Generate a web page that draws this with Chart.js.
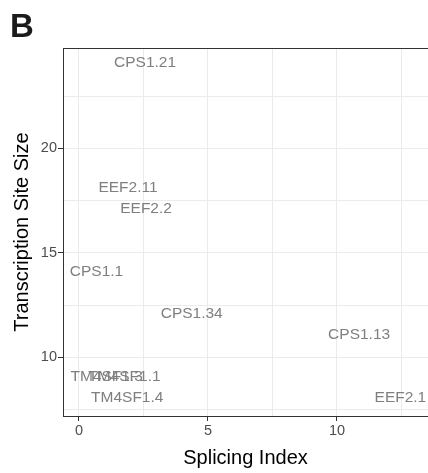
<!DOCTYPE html>
<html>
<head>
<meta charset="utf-8">
<script src="https://cdn.jsdelivr.net/npm/chart.js@4.4.1/dist/chart.umd.min.js"></script>
<style>
  html, body { margin: 0; padding: 0; background: #fff; overflow: hidden; }
  canvas { display: block; }
</style>
</head>
<body>
<canvas id="scatter-chart" width="428" height="473"></canvas>
<script>
// gene labels and their coordinates
const geneLabels = ['CPS1.21', 'EEF2.11', 'EEF2.2', 'CPS1.1', 'CPS1.34', 'CPS1.13', 'TM4SF1.3', 'TM4SF1.1', 'TM4SF1.4', 'EEF2.1'];
const splicingIndex = [2.56, 1.9, 2.6, 0.68, 4.37, 10.86, 1.07, 1.76, 1.87, 12.46];
const siteSize = [24, 18, 17, 14, 12, 11, 9, 9, 8, 8];

const xTicks = [0, 2.5, 5, 7.5, 10, 12.5];
const yTicks = [7.5, 10, 12.5, 15, 17.5, 20, 22.5];
const panelLetter = 'B';

const FONT = "'Liberation Sans', Arial, Helvetica, sans-serif";

const points = splicingIndex.map((x, i) => ({ x: x, y: siteSize[i] }));

const isMajor = v => Math.abs(v % 5) < 1e-9;

const textLabels = {
  id: 'textLabels',
  afterDatasetsDraw(chart) {
    const ctx = chart.ctx;
    const meta = chart.getDatasetMeta(0);
    ctx.save();
    ctx.font = '15.5px ' + FONT;
    ctx.fillStyle = '#7f7f7f';
    ctx.textAlign = 'center';
    ctx.textBaseline = 'middle';
    meta.data.forEach((el, i) => {
      // ggplot centres the glyph box a little higher than canvas 'middle'
      ctx.fillText(geneLabels[i], el.x, el.y - 2);
    });
    ctx.restore();
  },
  afterDraw(chart) {
    const ctx = chart.ctx;
    const area = chart.chartArea;
    ctx.save();
    ctx.strokeStyle = '#333333';
    ctx.lineWidth = 1;
    ctx.beginPath();
    ctx.moveTo(area.left, area.top + 0.5);
    ctx.lineTo(area.right, area.top + 0.5);
    ctx.stroke();
    ctx.font = 'bold 33px ' + FONT;
    ctx.fillStyle = '#1a1a1a';
    ctx.textAlign = 'left';
    ctx.textBaseline = 'alphabetic';
    ctx.fillText(panelLetter, 10, 37);
    ctx.restore();
  }
};

function loadChart() {
  const ctx = document.getElementById('scatter-chart').getContext('2d');
  new Chart(ctx, {
    type: 'scatter',
    data: {
      datasets: [
        {
          data: points,
          pointRadius: 0,
          pointHoverRadius: 0,
        },
      ],
    },
    options: {
      responsive: false,
      animation: false,
      events: [],
      layout: { padding: { top: 48, right: 0, left: 0, bottom: 0 } },
      plugins: {
        legend: { display: false },
        tooltip: { enabled: false },
      },
      scales: {
        x: {
          type: 'linear',
          min: -0.62,
          max: 13.53,
          afterBuildTicks: scale => { scale.ticks = xTicks.map(v => ({ value: v })); },
          afterFit: scale => { scale.height = 57; },
          grid: {
            color: '#ebebeb',
            lineWidth: 1,
            tickLength: 5,
            tickColor: c => (c.tick && isMajor(c.tick.value) ? '#333333' : 'rgba(0,0,0,0)'),
          },
          border: { color: '#333333', width: 1 },
          ticks: {
            padding: 1,
            color: '#4d4d4d',
            font: { family: FONT, size: 14.5 },
            maxRotation: 0,
            autoSkip: false,
            callback: v => (isMajor(v) ? String(v) : ''),
          },
          title: {
            display: true,
            text: 'Splicing Index',
            color: '#000',
            font: { family: FONT, size: 20 },
            padding: { top: 0, bottom: 3 },
          },
        },
        y: {
          type: 'linear',
          min: 7.2,
          max: 24.8,
          afterBuildTicks: scale => { scale.ticks = yTicks.map(v => ({ value: v })); },
          afterFit: scale => { scale.width = 63; },
          grid: {
            color: '#ebebeb',
            lineWidth: 1,
            tickLength: 5,
            tickColor: c => (c.tick && isMajor(c.tick.value) ? '#333333' : 'rgba(0,0,0,0)'),
          },
          border: { color: '#333333', width: 1 },
          ticks: {
            padding: 1,
            color: '#4d4d4d',
            font: { family: FONT, size: 14.5 },
            autoSkip: false,
            callback: v => (isMajor(v) ? String(v) : ''),
          },
          title: {
            display: true,
            text: 'Transcription Site Size',
            color: '#000',
            font: { family: FONT, size: 20 },
            padding: { top: 10, bottom: 0 },
          },
        },
      },
    },
    plugins: [textLabels],
  });
}

window.onload = loadChart;
</script>
</body>
</html>
